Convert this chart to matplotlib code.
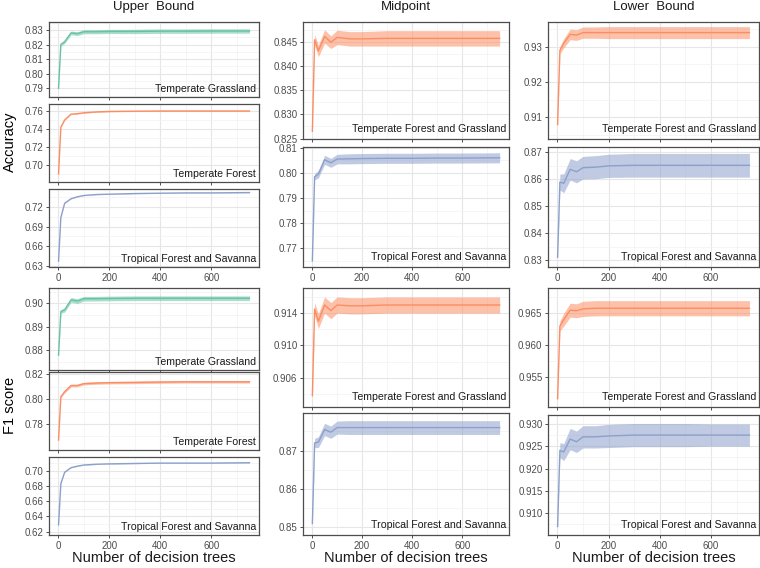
import numpy as np
import matplotlib
matplotlib.use("Agg")
import matplotlib.pyplot as plt
from matplotlib.ticker import FixedLocator, FormatStrFormatter

plt.rcParams['font.family'] = ['Liberation Sans', 'DejaVu Sans']

# number of decision trees
trees = [1, 10, 25, 50, 75, 100, 150, 200, 300, 400, 500, 600, 750]

# colours (Set2)
GREEN, ORANGE, BLUE = "#66c2a5", "#fc8d62", "#8da0cb"

# ---- Upper Bound : accuracy ----
ub_acc_grass = [0.790, 0.8200, 0.8220, 0.8280, 0.8275, 0.8288, 0.8288, 0.8290, 0.8290, 0.8292, 0.8292, 0.8293, 0.8293]
ub_acc_grass_hw = [0.0003, 0.0010, 0.0012, 0.0013, 0.0013, 0.0014, 0.0014, 0.0014, 0.0015, 0.0015, 0.0015, 0.0015, 0.0015]
ub_acc_forest = [0.690, 0.742, 0.750, 0.7565, 0.757, 0.758, 0.759, 0.7595, 0.7598, 0.760, 0.760, 0.760, 0.760]
ub_acc_forest_hw = [0.0002, 0.0004, 0.0004, 0.0004, 0.0004, 0.0004, 0.0004, 0.0004, 0.0004, 0.0004, 0.0004, 0.0004, 0.0004]
ub_acc_trop = [0.637, 0.704, 0.726, 0.733, 0.736, 0.738, 0.7395, 0.740, 0.741, 0.7415, 0.742, 0.742, 0.7425]
ub_acc_trop_hw = [0.0002, 0.0003, 0.0003, 0.0003, 0.0003, 0.0003, 0.0003, 0.0003, 0.0003, 0.0003, 0.0003, 0.0003, 0.0003]

# ---- Upper Bound : F1 ----
ub_f1_grass = [0.8778, 0.8965, 0.8972, 0.9015, 0.9010, 0.9020, 0.9020, 0.9021, 0.9022, 0.9022, 0.9022, 0.9022, 0.9022]
ub_f1_grass_hw = [0.0002, 0.0008, 0.0009, 0.0010, 0.0010, 0.0010, 0.0010, 0.0010, 0.0010, 0.0010, 0.0010, 0.0010, 0.0010]
ub_f1_forest = [0.767, 0.802, 0.806, 0.811, 0.811, 0.8125, 0.813, 0.8133, 0.8135, 0.8138, 0.814, 0.814, 0.814]
ub_f1_forest_hw = [0.0003, 0.0009, 0.0010, 0.0010, 0.0010, 0.0010, 0.0010, 0.0010, 0.0010, 0.0010, 0.0010, 0.0010, 0.0010]
ub_f1_trop = [0.629, 0.683, 0.698, 0.704, 0.706, 0.7075, 0.7085, 0.709, 0.7095, 0.710, 0.710, 0.710, 0.7105]
ub_f1_trop_hw = [0.0002, 0.0003, 0.0003, 0.0003, 0.0003, 0.0003, 0.0003, 0.0003, 0.0003, 0.0003, 0.0003, 0.0003, 0.0003]

# ---- Midpoint ----
mp_acc_tfg = [0.8265, 0.8455, 0.8432, 0.8462, 0.8450, 0.8460, 0.8457, 0.8457, 0.8458, 0.8458, 0.8458, 0.8458, 0.8458]
mp_acc_tfg_hw = [0.0002, 0.0011, 0.0012, 0.0014, 0.0013, 0.0015, 0.0015, 0.0015, 0.0016, 0.0016, 0.0016, 0.0016, 0.0016]
mp_acc_trop = [0.765, 0.7985, 0.7995, 0.8052, 0.8040, 0.8055, 0.8056, 0.8057, 0.8058, 0.8058, 0.8059, 0.8059, 0.8060]
mp_acc_trop_hw = [0.0003, 0.0012, 0.0015, 0.0018, 0.0018, 0.0019, 0.0020, 0.0020, 0.0020, 0.0020, 0.0020, 0.0020, 0.0020]
mp_f1_tfg = [0.9038, 0.9145, 0.9130, 0.9150, 0.9143, 0.9150, 0.9149, 0.9149, 0.9150, 0.9150, 0.9150, 0.9150, 0.9150]
mp_f1_tfg_hw = [0.0002, 0.0008, 0.0009, 0.0010, 0.0010, 0.0010, 0.0010, 0.0010, 0.0010, 0.0010, 0.0010, 0.0010, 0.0010]
mp_f1_trop = [0.851, 0.872, 0.8722, 0.8755, 0.8748, 0.8760, 0.8760, 0.8760, 0.8760, 0.8760, 0.8760, 0.8760, 0.8760]
mp_f1_trop_hw = [0.0003, 0.0012, 0.0014, 0.0016, 0.0016, 0.0017, 0.0018, 0.0018, 0.0018, 0.0018, 0.0018, 0.0018, 0.0018]

# ---- Lower Bound ----
lb_acc_tfg = [0.908, 0.929, 0.931, 0.9335, 0.9333, 0.9340, 0.9340, 0.9340, 0.9340, 0.9340, 0.9340, 0.9340, 0.9340]
lb_acc_tfg_hw = [0.0003, 0.0010, 0.0013, 0.0015, 0.0015, 0.0016, 0.0016, 0.0017, 0.0017, 0.0017, 0.0017, 0.0017, 0.0017]
lb_acc_trop = [0.831, 0.859, 0.8585, 0.8637, 0.8628, 0.8643, 0.8645, 0.8650, 0.8652, 0.8652, 0.8652, 0.8652, 0.8652]
lb_acc_trop_hw = [0.0005, 0.0030, 0.0035, 0.0040, 0.0041, 0.0042, 0.0043, 0.0043, 0.0044, 0.0044, 0.0044, 0.0044, 0.0044]
lb_f1_tfg = [0.9515, 0.9630, 0.9640, 0.9655, 0.9654, 0.9657, 0.9658, 0.9658, 0.9658, 0.9658, 0.9658, 0.9658, 0.9658]
lb_f1_tfg_hw = [0.0002, 0.0008, 0.0010, 0.0011, 0.0011, 0.0012, 0.0012, 0.0012, 0.0012, 0.0012, 0.0012, 0.0012, 0.0012]
lb_f1_trop = [0.9070, 0.9241, 0.9237, 0.9266, 0.9260, 0.9271, 0.9271, 0.9273, 0.9275, 0.9275, 0.9275, 0.9275, 0.9275]
lb_f1_trop_hw = [0.0003, 0.0017, 0.0019, 0.0024, 0.0024, 0.0025, 0.0025, 0.0026, 0.0026, 0.0026, 0.0026, 0.0025, 0.0025]

col_titles = ["Upper  Bound", "Midpoint", "Lower  Bound"]
W, H = 760, 568

fig = plt.figure(figsize=(7.6, 5.68), dpi=100)
fig.patch.set_facecolor("white")


def px_axes(left, top, right, bottom):
    return fig.add_axes([left / W, 1 - bottom / H, (right - left) / W, (bottom - top) / H])


def draw_panel(box, mean, hw, color, label, ylim, yticks, fmt, show_x):
    ax = px_axes(*box)
    m = np.array(mean)
    h = np.array(hw)
    ax.fill_between(trees, m - h, m + h, color=color, alpha=0.55, lw=0)
    ax.plot(trees, m, color=color, lw=1.0)
    ax.set_xlim(1 - 37.45, 750 + 37.45)
    ax.set_ylim(*ylim)

    step = yticks[1] - yticks[0]
    minor = [yticks[0] - step / 2] + [t + step / 2 for t in yticks]
    ax.xaxis.set_major_locator(FixedLocator([0, 200, 400, 600]))
    ax.xaxis.set_minor_locator(FixedLocator([100, 300, 500, 700]))
    ax.yaxis.set_major_locator(FixedLocator(yticks))
    ax.yaxis.set_minor_locator(FixedLocator(minor))
    ax.yaxis.set_major_formatter(FormatStrFormatter(fmt))

    ax.grid(which="major", color="#e6e6e6", lw=0.8)
    ax.grid(which="minor", color="#f2f2f2", lw=0.5)
    ax.set_axisbelow(True)
    ax.tick_params(which="major", length=2.5, width=0.6, color="#333333",
                   labelsize=7, labelcolor="#4d4d4d", pad=1.5)
    ax.tick_params(which="minor", length=0)
    if not show_x:
        ax.tick_params(axis="x", labelbottom=False)
    for s in ax.spines.values():
        s.set_color("#4d4d4d")
        s.set_linewidth(0.9)
    ax.text(0.985, 0.04, label, transform=ax.transAxes, ha="right", va="bottom",
            fontsize=7.6, color="#1a1a1a")
    return ax


# Upper Bound column
c1 = (49, 259)
draw_panel((c1[0], 22, c1[1], 97), ub_acc_grass, ub_acc_grass_hw, GREEN, "Temperate Grassland",
           (0.784, 0.8355), [0.79, 0.80, 0.81, 0.82, 0.83], "%.2f", False)
draw_panel((c1[0], 104, c1[1], 182), ub_acc_forest, ub_acc_forest_hw, ORANGE, "Temperate Forest",
           (0.681, 0.7678), [0.70, 0.72, 0.74, 0.76], "%.2f", False)
draw_panel((c1[0], 189, c1[1], 267), ub_acc_trop, ub_acc_trop_hw, BLUE, "Tropical Forest and Savanna",
           (0.628, 0.748), [0.63, 0.66, 0.69, 0.72], "%.2f", True)
draw_panel((c1[0], 288, c1[1], 370), ub_f1_grass, ub_f1_grass_hw, GREEN, "Temperate Grassland",
           (0.8714, 0.9066), [0.88, 0.89, 0.90], "%.2f", False)
draw_panel((c1[0], 372, c1[1], 450), ub_f1_forest, ub_f1_forest_hw, ORANGE, "Temperate Forest",
           (0.759, 0.8219), [0.78, 0.80, 0.82], "%.2f", False)
draw_panel((c1[0], 457, c1[1], 535), ub_f1_trop, ub_f1_trop_hw, BLUE, "Tropical Forest and Savanna",
           (0.6157, 0.718), [0.62, 0.64, 0.66, 0.68, 0.70], "%.2f", True)

# Midpoint column
c2 = (303, 509)
draw_panel((c2[0], 22, c2[1], 139), mp_acc_tfg, mp_acc_tfg_hw, ORANGE, "Temperate Forest and Grassland",
           (0.8249, 0.8492), [0.825, 0.830, 0.835, 0.840, 0.845], "%.3f", False)
draw_panel((c2[0], 147, c2[1], 267), mp_acc_trop, mp_acc_trop_hw, BLUE, "Tropical Forest and Savanna",
           (0.7626, 0.8103), [0.77, 0.78, 0.79, 0.80, 0.81], "%.2f", True)
draw_panel((c2[0], 288, c2[1], 407), mp_f1_tfg, mp_f1_tfg_hw, ORANGE, "Temperate Forest and Grassland",
           (0.9024, 0.9171), [0.906, 0.910, 0.914], "%.3f", False)
draw_panel((c2[0], 413, c2[1], 535), mp_f1_trop, mp_f1_trop_hw, BLUE, "Tropical Forest and Savanna",
           (0.848, 0.8798), [0.85, 0.86, 0.87], "%.2f", True)

# Lower Bound column
c3 = (548, 759)
draw_panel((c3[0], 22, c3[1], 139), lb_acc_tfg, lb_acc_tfg_hw, ORANGE, "Temperate Forest and Grassland",
           (0.9039, 0.937), [0.91, 0.92, 0.93], "%.2f", False)
draw_panel((c3[0], 147, c3[1], 267), lb_acc_trop, lb_acc_trop_hw, BLUE, "Tropical Forest and Savanna",
           (0.8274, 0.872), [0.83, 0.84, 0.85, 0.86, 0.87], "%.2f", True)
draw_panel((c3[0], 288, c3[1], 407), lb_f1_tfg, lb_f1_tfg_hw, ORANGE, "Temperate Forest and Grassland",
           (0.9502, 0.969), [0.955, 0.960, 0.965], "%.3f", False)
draw_panel((c3[0], 415, c3[1], 535), lb_f1_trop, lb_f1_trop_hw, BLUE, "Tropical Forest and Savanna",
           (0.9051, 0.932), [0.910, 0.915, 0.920, 0.925, 0.930], "%.3f", True)

# column titles and axis labels
for (l, r), title in zip([c1, c2, c3], col_titles):
    fig.text((l + r) / 2 / W, 1 - 7 / H, title, ha="center", va="center", fontsize=9.5, color="#1a1a1a")
    fig.text((l + r) / 2 / W, 1 - 558 / H, "Number of decision trees", ha="center", va="center",
             fontsize=10.5, color="#1a1a1a")

fig.text(10 / W, 1 - 142 / H, "Accuracy", rotation=90, ha="center", va="center", fontsize=10.5)
fig.text(10 / W, 1 - 405 / H, "F1 score", rotation=90, ha="center", va="center", fontsize=10.5)

fig.savefig("out.png", dpi=100)
